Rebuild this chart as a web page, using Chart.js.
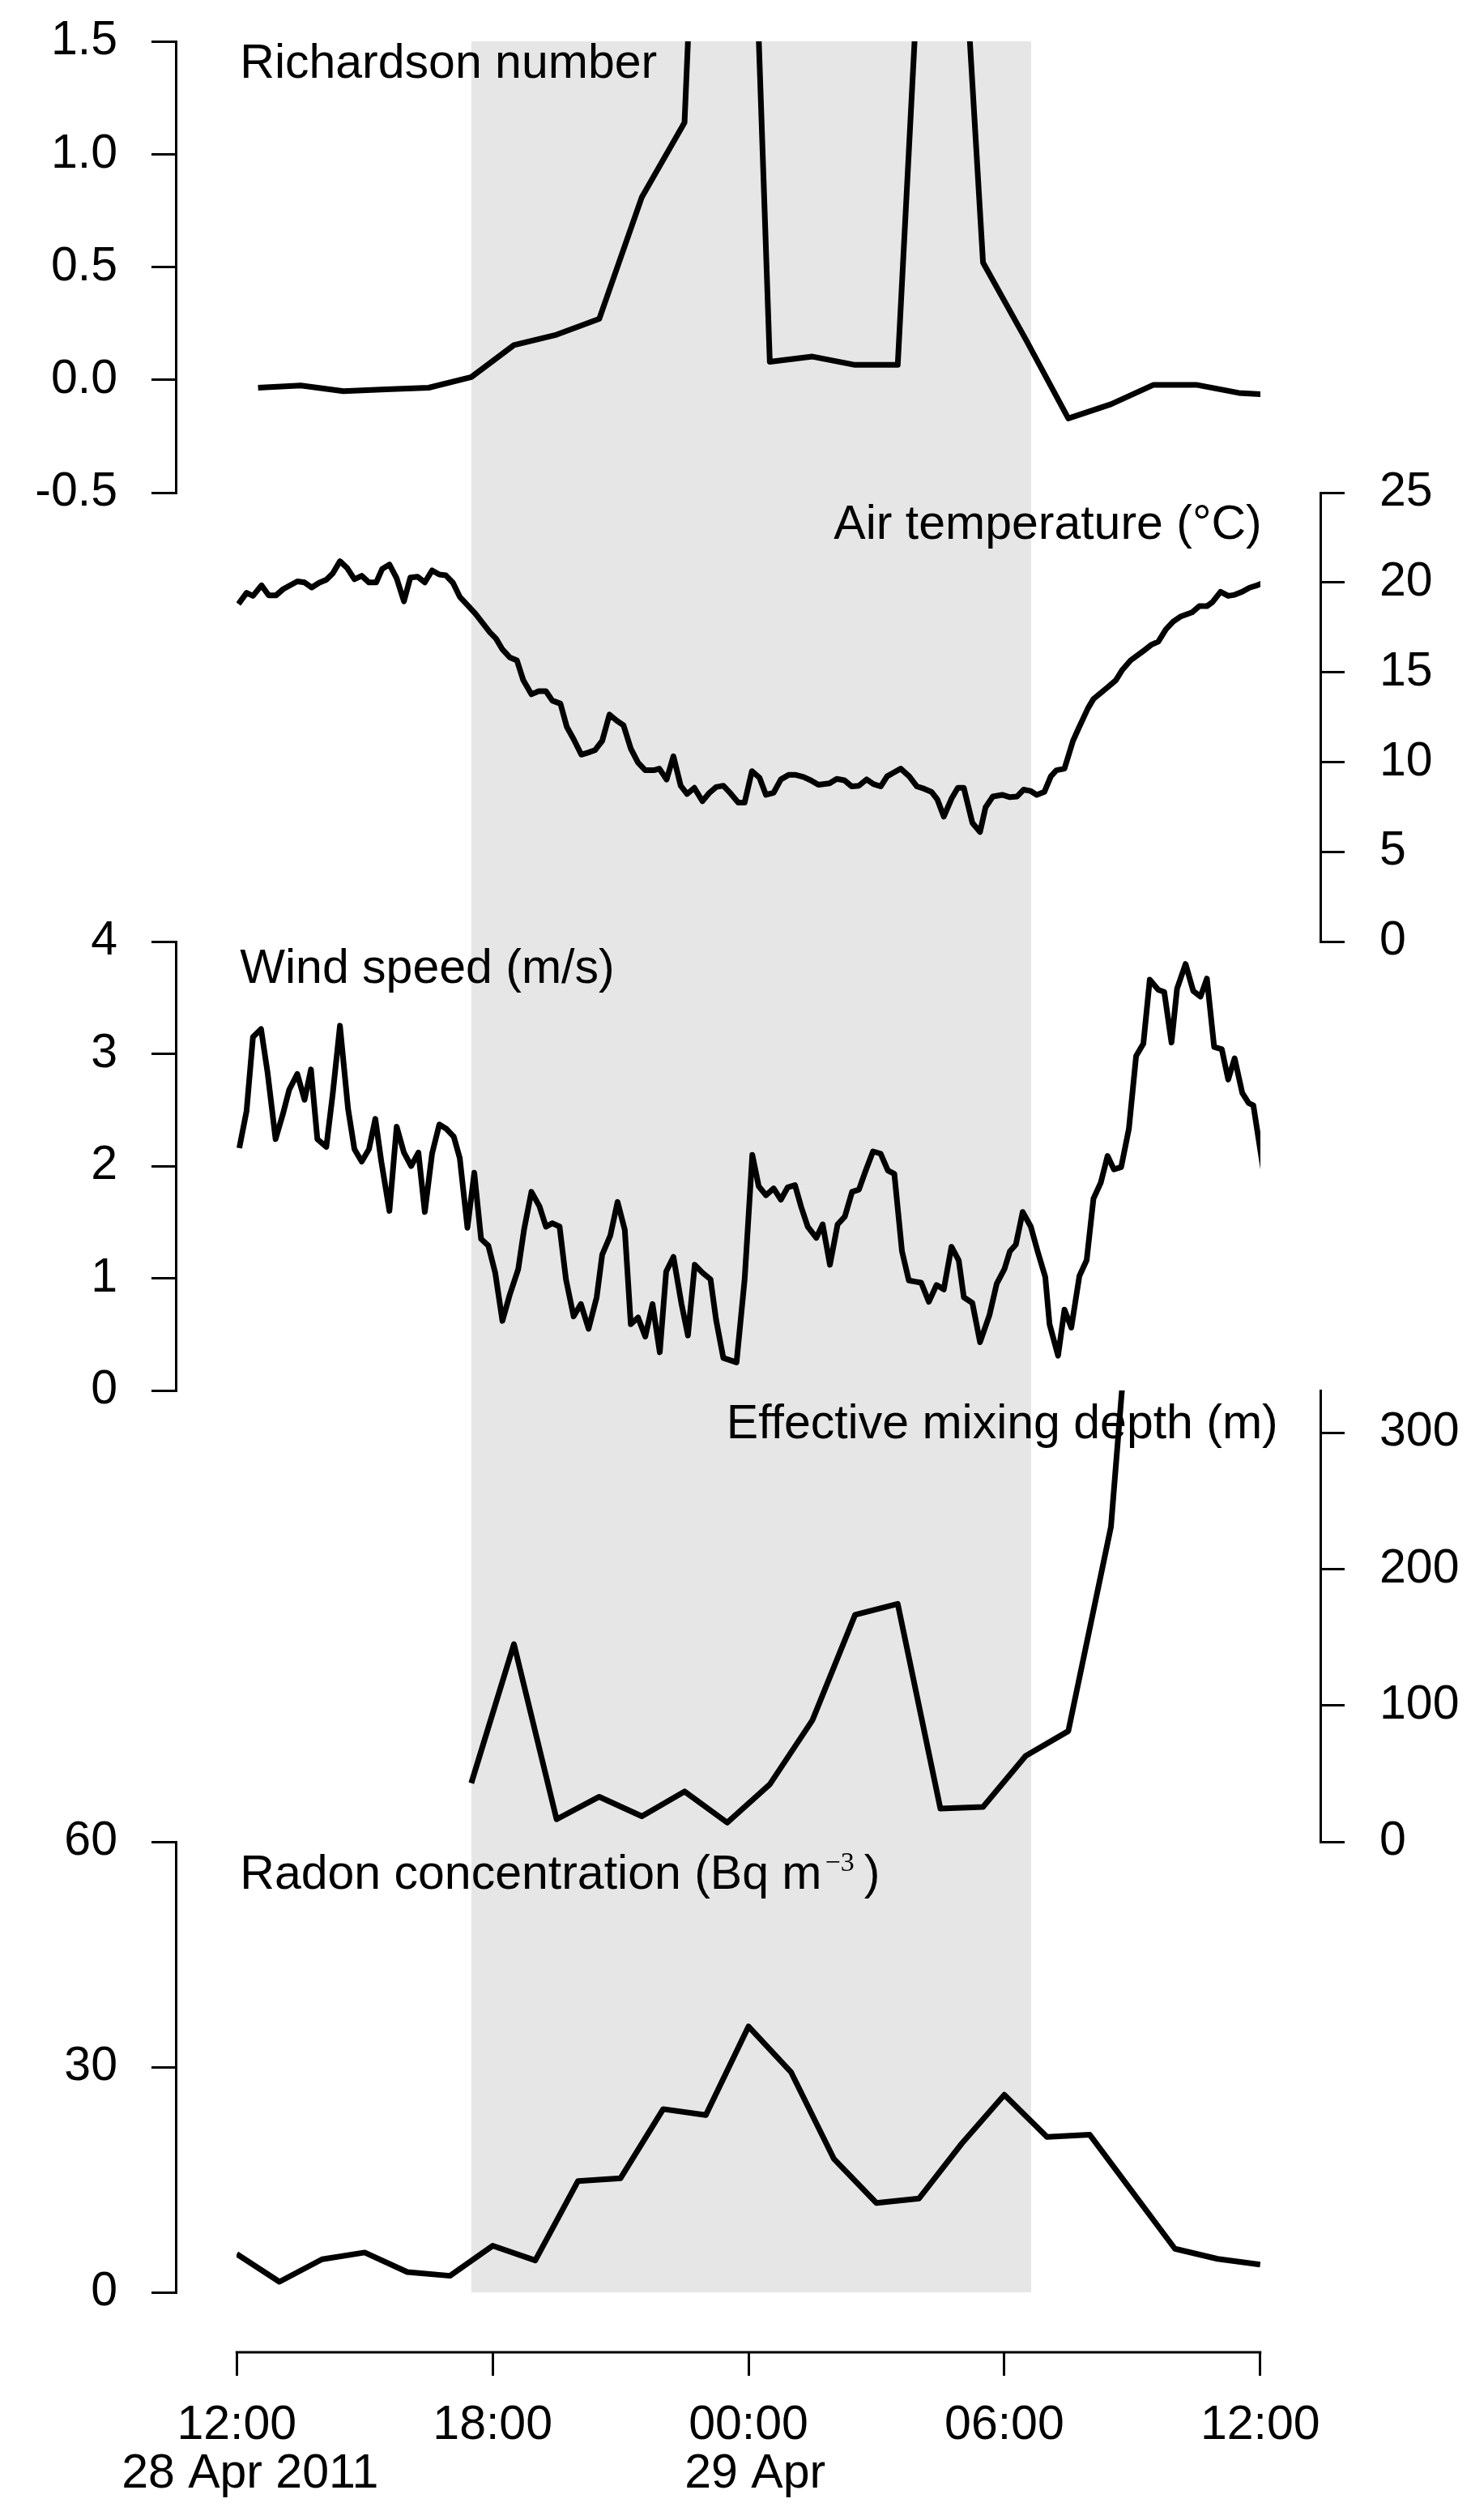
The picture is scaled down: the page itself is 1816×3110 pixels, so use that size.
<!DOCTYPE html>
<html>
<head>
<meta charset="utf-8">
<title>Richardson number, temperature, wind, mixing depth and radon, 28-29 Apr 2011</title>
<script src="https://cdn.jsdelivr.net/npm/chart.js@4.4.1/dist/chart.umd.min.js"></script>
<style>
  html, body { margin: 0; padding: 0; background: #fff; }
  #wrap { width: 1816px; height: 3110px; }
</style>
</head>
<body>
<div id="wrap"><canvas id="plot" width="1816" height="3110"></canvas></div>
<script>
// all times are hours after 12:00 on 28 Apr 2011
const xTickHours = [0, 6, 12, 18, 24];
const xTickLabels = [["12:00", "\u00A0\u00A028 Apr 2011"], "18:00", ["00:00", "\u00A029 Apr"], "06:00", "12:00"];
const nightHours = [5.5, 18.63];

const panelTitles = ["Richardson number", "Air temperature (\u00B0C)", "Wind speed (m/s)",
  "Effective mixing depth (m)", "Radon concentration (Bq m"];

// Richardson number (hourly)
const riHours = [0.5, 1.5, 2.5, 3.5, 4.5, 5.5, 6.5, 7.5, 8.5, 9.5, 10.5, 11.5, 12.5,
  13.5, 14.5, 15.5, 16.5, 17.5, 18.5, 19.5, 20.5, 21.5, 22.5, 23.5, 24.5];
const riValues = [-0.035, -0.025, -0.05, -0.042, -0.035, 0.012, 0.154, 0.2, 0.27, 0.81, 1.14, 5.6, 0.08,
  0.103, 0.066, 0.066, 3.7, 0.52, 0.18, -0.171, -0.108, -0.022, -0.022, -0.058, -0.07];
const riTicks = [-0.5, 0, 0.5, 1, 1.5];
const riTickLabels = ["-0.5", "0.0", "0.5", "1.0", "1.5"];

// Air temperature (10 min)
const taHours = [0.04, 0.23, 0.38, 0.58, 0.75, 0.92, 1.09, 1.42, 1.59, 1.76, 1.93, 2.10, 2.25, 2.42,
  2.59, 2.76, 2.93, 3.10, 3.27, 3.41, 3.58, 3.75, 3.92, 4.07, 4.24, 4.41, 4.58, 4.75, 4.90, 5.07,
  5.23, 5.43, 5.60, 5.77, 5.94, 6.08, 6.23, 6.40, 6.57, 6.72, 6.91, 7.08, 7.25, 7.40, 7.59, 7.74,
  7.90, 8.08, 8.25, 8.40, 8.57, 8.74, 8.91, 9.07, 9.24, 9.41, 9.58, 9.78, 9.91, 10.08, 10.24, 10.41,
  10.56, 10.73, 10.92, 11.07, 11.24, 11.41, 11.58, 11.76, 11.91, 12.08, 12.26, 12.41, 12.59, 12.76,
  12.94, 13.11, 13.29, 13.46, 13.64, 13.90, 14.07, 14.25, 14.42, 14.59, 14.77, 14.93, 15.10, 15.25,
  15.42, 15.57, 15.77, 15.95, 16.12, 16.29, 16.43, 16.58, 16.77, 16.91, 17.05, 17.25, 17.43, 17.56,
  17.73, 17.95, 18.13, 18.30, 18.45, 18.61, 18.76, 18.94, 19.09, 19.22, 19.41, 19.61, 19.74, 19.96,
  20.09, 20.44, 20.61, 20.77, 20.96, 21.26, 21.44, 21.61, 21.79, 21.96, 22.14, 22.40, 22.57, 22.75,
  22.88, 23.07, 23.25, 23.40, 23.58, 23.75, 23.93, 24.1];
const taValues = [18.8, 19.42, 19.25, 19.84, 19.28, 19.28, 19.63, 20.06, 20.0, 19.72, 19.98, 20.15, 20.5, 21.18,
  20.8, 20.18, 20.37, 20.0, 20.0, 20.75, 21.0, 20.23, 18.95, 20.27, 20.32, 20.0, 20.67, 20.44, 20.4, 19.98,
  19.2, 18.69, 18.25, 17.73, 17.21, 16.87, 16.27, 15.83, 15.66, 14.55, 13.77, 13.94, 13.94, 13.42, 13.25, 11.96,
  11.27, 10.41, 10.53, 10.66, 11.18, 12.64, 12.3, 12.04, 10.75, 9.97, 9.54, 9.54, 9.63, 9.02, 10.32, 8.68,
  8.22, 8.56, 7.82, 8.25, 8.6, 8.68, 8.25, 7.74, 7.74, 9.49, 9.12, 8.17, 8.29, 9.03,
  9.28, 9.28, 9.17, 8.98, 8.73, 8.81, 9.06, 8.98, 8.64, 8.68, 9.03, 8.77, 8.64, 9.2,
  9.43, 9.63, 9.2, 8.64, 8.51, 8.34, 7.91, 6.96, 8.0, 8.56, 8.56, 6.61, 6.1, 7.48,
  8.08, 8.17, 8.04, 8.08, 8.46, 8.39, 8.17, 8.34, 9.2, 9.54, 9.63, 11.18, 11.87, 12.99,
  13.51, 14.2, 14.54, 15.14, 15.66, 16.18, 16.52, 16.7, 17.39, 17.82, 18.11, 18.33, 18.68, 18.68,
  18.9, 19.48, 19.25, 19.31, 19.48, 19.71, 19.84, 20.0];
const taTicks = [0, 5, 10, 15, 20, 25];

// Wind speed (10 min)
const wsHours = [0.06, 0.23, 0.38, 0.57, 0.72, 0.91, 1.08, 1.23, 1.42, 1.59, 1.74, 1.89, 2.10, 2.25,
  2.42, 2.61, 2.76, 2.93, 3.10, 3.25, 3.39, 3.58, 3.75, 3.92, 4.09, 4.26, 4.41, 4.58, 4.75, 4.92,
  5.09, 5.23, 5.41, 5.57, 5.73, 5.90, 6.06, 6.23, 6.40, 6.60, 6.74, 6.91, 7.10, 7.25, 7.40, 7.57,
  7.72, 7.90, 8.07, 8.25, 8.44, 8.57, 8.76, 8.93, 9.10, 9.24, 9.41, 9.58, 9.75, 9.92, 10.07, 10.24,
  10.43, 10.58, 10.74, 10.92, 11.11, 11.24, 11.41, 11.72, 11.91, 12.09, 12.24, 12.41, 12.59, 12.76,
  12.92, 13.09, 13.24, 13.39, 13.59, 13.74, 13.91, 14.09, 14.26, 14.43, 14.59, 14.75, 14.92, 15.10,
  15.27, 15.42, 15.60, 15.76, 15.90, 16.05, 16.23, 16.41, 16.58, 16.76, 16.93, 17.05, 17.25, 17.43,
  17.65, 17.82, 18.00, 18.13, 18.27, 18.43, 18.62, 18.78, 18.96, 19.06, 19.26, 19.41, 19.57, 19.76,
  19.93, 20.09, 20.26, 20.42, 20.57, 20.74, 20.92, 21.09, 21.26, 21.41, 21.61, 21.75, 21.92, 22.05,
  22.25, 22.43, 22.60, 22.75, 22.92, 23.10, 23.25, 23.40, 23.58, 23.73, 23.84, 24.1];
const wsValues = [2.16, 2.49, 3.15, 3.22, 2.84, 2.24, 2.46, 2.68, 2.82, 2.59, 2.86, 2.24, 2.17, 2.64,
  3.25, 2.51, 2.15, 2.04, 2.15, 2.42, 2.04, 1.60, 2.35, 2.12, 2.0, 2.12, 1.59, 2.11, 2.37, 2.33,
  2.26, 2.07, 1.45, 1.94, 1.35, 1.29, 1.05, 0.62, 0.85, 1.08, 1.44, 1.77, 1.64, 1.46, 1.49, 1.46,
  0.99, 0.66, 0.77, 0.55, 0.83, 1.21, 1.38, 1.68, 1.43, 0.59, 0.65, 0.48, 0.77, 0.34, 1.06, 1.19,
  0.77, 0.49, 1.12, 1.05, 0.99, 0.63, 0.29, 0.25, 0.99, 2.10, 1.82, 1.74, 1.80, 1.70,
  1.81, 1.83, 1.63, 1.46, 1.36, 1.48, 1.12, 1.48, 1.55, 1.77, 1.79, 1.96, 2.13, 2.11,
  1.96, 1.93, 1.24, 0.98, 0.97, 0.96, 0.79, 0.94, 0.90, 1.28, 1.16, 0.83, 0.78, 0.43,
  0.67, 0.95, 1.08, 1.24, 1.30, 1.59, 1.46, 1.24, 1.01, 0.59, 0.31, 0.72, 0.56, 1.02,
  1.16, 1.71, 1.85, 2.09, 1.97, 1.99, 2.33, 2.98, 3.09, 3.66, 3.57, 3.55, 3.10, 3.58,
  3.80, 3.56, 3.51, 3.67, 3.06, 3.04, 2.77, 2.96, 2.65, 2.56, 2.54, 1.9];
const wsTicks = [0, 1, 2, 3, 4];

// Effective mixing depth (hourly)
const mdHours = [5.5, 6.5, 7.5, 8.5, 9.5, 10.5, 11.5, 12.5, 13.5, 14.5, 15.5, 16.5, 17.5, 18.5, 19.5, 20.5, 21.5];
const mdValues = [43, 145, 16.5, 33, 18.7, 36.9, 14.1, 42.1, 89.2, 166.5, 174.5, 24.4, 25.5, 63, 81.2, 231, 620];
const mdTicks = [0, 100, 200, 300];

// Radon concentration (hourly)
const rnHours = [0, 1, 2, 3, 4, 5, 6, 7, 8, 9, 10, 11, 12, 13, 14, 15, 16, 17, 18, 19, 20, 21, 22, 23, 24];
const rnValues = [5.1, 1.4, 4.4, 5.3, 2.7, 2.2, 6.2, 4.25, 14.8, 15.2, 24.4, 23.6, 35.4, 29.3, 17.8,
  11.9, 12.5, 19.8, 26.3, 20.7, 21.0, 13.4, 5.8, 4.45, 3.7];
const rnTicks = [0, 30, 60];

const FAMILY = '"Liberation Sans", Arial, Helvetica, sans-serif';
const tickFont = { family: FAMILY, size: 59 };

function pts(hours, values) {
  return hours.map((h, i) => ({ x: h, y: values[i] }));
}

// fixed axis widths, and no extra label padding pushing the plot area around
function fixWidth(side) {
  return s => {
    s.width = side === 'left' ? 217 : 186;
    s.paddingTop = 0;
    s.paddingBottom = 0;
  };
}

function panelAxis(side, weight, stackWeight, min, max, ticks, labels) {
  return {
    type: 'linear', position: side, stack: side, stackWeight: stackWeight, weight: weight,
    min: min, max: max,
    afterBuildTicks: s => { s.ticks = ticks.map(v => ({ value: v })); },
    afterFit: fixWidth(side),
    border: { display: true, color: '#000', width: 3 },
    grid: { drawOnChartArea: false, drawTicks: true, tickLength: 30, color: '#000', lineWidth: 3 },
    ticks: {
      color: '#000', font: tickFont, padding: side === 'left' ? 42 : 43, autoSkip: false,
      callback: (v, i) => labels ? labels[i] : String(v)
    }
  };
}

function spacer(side, weight, stackWeight) {
  return {
    type: 'linear', position: side, stack: side, stackWeight: stackWeight, weight: weight,
    display: false,
    afterFit: fixWidth(side)
  };
}

const line = {
  borderColor: '#000', borderWidth: 7, pointRadius: 0, fill: false, tension: 0,
  borderJoinStyle: 'round', borderCapStyle: 'butt',
  clip: { left: -75, right: -74, top: 0, bottom: 0 }
};

const decor = {
  id: 'decor',
  beforeDatasetsDraw(chart) {
    const { ctx, scales } = chart;
    const x = scales.x;
    const top = scales.yRi.getPixelForValue(riTicks[riTicks.length - 1]);
    const bottom = scales.yRn.getPixelForValue(0);
    const x0 = x.getPixelForValue(nightHours[0]);
    const x1 = x.getPixelForValue(nightHours[1]);
    ctx.save();
    ctx.fillStyle = '#e6e6e6';
    ctx.fillRect(x0, top, x1 - x0, bottom - top);

    ctx.fillStyle = '#000';
    ctx.font = '59px ' + FAMILY;
    ctx.textBaseline = 'alphabetic';
    const left = x.getPixelForValue(0) + 4;
    const right = x.getPixelForValue(24);
    ctx.textAlign = 'left';
    ctx.fillText(panelTitles[0], left, scales.yRi.top + 45);
    ctx.fillText(panelTitles[2], left, scales.yWs.top + 51);
    const rb = scales.yRn.top + 58;
    ctx.fillText(panelTitles[4], left, rb);
    const w = ctx.measureText(panelTitles[4]).width;
    ctx.font = '34px "Liberation Serif", "DejaVu Serif", serif';
    ctx.fillText('\u22123', left + w + 4, rb - 22);
    const sw = ctx.measureText('\u22123').width;
    ctx.font = '59px ' + FAMILY;
    ctx.fillText(')', left + w + 4 + sw + 12, rb);
    ctx.textAlign = 'right';
    ctx.fillText(panelTitles[1], right + 2, scales.yTa.top + 57);
    ctx.fillText(panelTitles[3], right + 22, scales.yMd.top + 59);
    ctx.restore();
  },
  afterDraw(chart) {
    const { ctx, scales } = chart;
    const x = scales.x;
    ctx.save();
    ctx.strokeStyle = '#000';
    ctx.lineWidth = 3;
    ctx.beginPath();
    ctx.moveTo(x.getPixelForValue(xTickHours[0]) - 1.5, x.top + 1);
    ctx.lineTo(x.getPixelForValue(xTickHours[xTickHours.length - 1]) + 1.5, x.top + 1);
    ctx.stroke();
    ctx.restore();
  }
};

new Chart(document.getElementById('plot'), {
  type: 'line',
  data: {
    datasets: [
      { ...line, label: panelTitles[0], data: pts(riHours, riValues), yAxisID: 'yRi' },
      { ...line, label: panelTitles[1], data: pts(taHours, taValues), yAxisID: 'yTa' },
      { ...line, label: panelTitles[2], data: pts(wsHours, wsValues), yAxisID: 'yWs' },
      { ...line, label: panelTitles[3], data: pts(mdHours, mdValues), yAxisID: 'yMd' },
      { ...line, label: panelTitles[4], data: pts(rnHours, rnValues), yAxisID: 'yRn' }
    ]
  },
  options: {
    responsive: false,
    devicePixelRatio: 1,
    animation: false,
    events: [],
    layout: { padding: { top: 51, left: 0, right: 0, bottom: 0 } },
    plugins: { legend: { display: false }, tooltip: { enabled: false } },
    scales: {
      x: {
        type: 'linear', position: 'bottom', min: -1.43, max: 25.41,
        afterBuildTicks: s => { s.ticks = xTickHours.map(v => ({ value: v })); },
        afterFit: s => { s.height = 208; s.paddingLeft = 0; s.paddingRight = 0; },
        border: { display: false },
        grid: { drawOnChartArea: false, drawTicks: true, tickLength: 30, color: '#000', lineWidth: 3 },
        ticks: {
          color: '#000', font: { family: FAMILY, size: 59, lineHeight: 1.03 }, padding: 31,
          autoSkip: false, maxRotation: 0, minRotation: 0,
          callback: (v, i) => xTickLabels[i]
        }
      },
      // left column, top to bottom
      yRi: panelAxis('left', 6, 557, -0.5, 1.5, riTicks, riTickLabels),
      yL2: spacer('left', 5, 554),
      yWs: panelAxis('left', 4, 554, 0, 4, wsTicks),
      yL4: spacer('left', 3, 557),
      yRn: panelAxis('left', 2, 556, 0, 60, rnTicks),
      yL6: spacer('left', 1, 73),
      // right column, top to bottom
      yR1: spacer('right', 1, 557),
      yTa: panelAxis('right', 2, 554, 0, 25, taTicks),
      yR3: spacer('right', 3, 554),
      yMd: panelAxis('right', 4, 557, 0, 331, mdTicks),
      yR5: spacer('right', 5, 629)
    }
  },
  plugins: [decor]
});
</script>
</body>
</html>
